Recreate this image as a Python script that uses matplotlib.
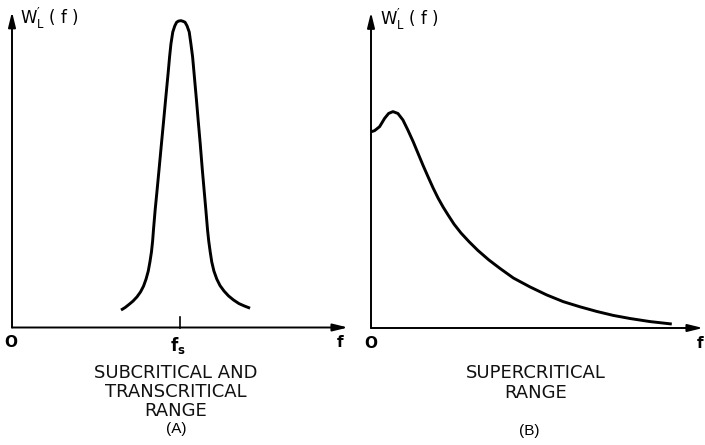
"""Lift spectrum sketches: subcritical/transcritical vs supercritical range."""

import matplotlib.pyplot as plt

plt.rcParams["mathtext.default"] = "regular"

# (A) narrow-band lift spectrum around the shedding frequency fs (f in units of fs)
f_sub = [0.649, 0.673, 0.696, 0.720, 0.744, 0.765, 0.783, 0.798, 0.811, 0.821,
         0.830, 0.837, 0.842, 0.852, 0.862, 0.875, 0.890, 0.903, 0.914, 0.930,
         0.938, 0.946, 0.957, 0.969, 0.980, 0.992, 1.006, 1.018, 1.030, 1.042,
         1.055, 1.065, 1.075, 1.083, 1.098, 1.108, 1.120, 1.133, 1.145, 1.154,
         1.164, 1.171, 1.180, 1.189, 1.202, 1.219, 1.238, 1.262, 1.289, 1.318,
         1.351, 1.384, 1.417]
w_sub = [0.057, 0.065, 0.075, 0.086, 0.100, 0.116, 0.135, 0.158, 0.184, 0.214,
         0.246, 0.282, 0.318, 0.383, 0.439, 0.514, 0.602, 0.677, 0.742, 0.834,
         0.883, 0.925, 0.964, 0.984, 0.996, 1.000, 1.001, 0.999, 0.996, 0.984,
         0.964, 0.925, 0.883, 0.834, 0.742, 0.677, 0.602, 0.514, 0.439, 0.383,
         0.318, 0.282, 0.246, 0.214, 0.184, 0.158, 0.137, 0.119, 0.103, 0.090,
         0.078, 0.070, 0.063]

# (B) broad-band lift spectrum in the supercritical range
f_sup = [0.000, 0.011, 0.026, 0.041, 0.053, 0.066, 0.081, 0.096, 0.111, 0.127,
         0.142, 0.157, 0.172, 0.187, 0.202, 0.217, 0.232, 0.250, 0.271, 0.295,
         0.322, 0.355, 0.389, 0.429, 0.479, 0.529, 0.579, 0.630, 0.680, 0.730,
         0.780, 0.840, 0.906]
w_sup = [0.640, 0.644, 0.657, 0.684, 0.700, 0.706, 0.700, 0.679, 0.646, 0.608,
         0.569, 0.530, 0.493, 0.457, 0.424, 0.395, 0.369, 0.339, 0.310, 0.282,
         0.253, 0.222, 0.194, 0.163, 0.134, 0.108, 0.086, 0.069, 0.054, 0.041,
         0.031, 0.021, 0.013]

captions_a = ["SUBCRITICAL AND", "TRANSCRITICAL", "RANGE"]
captions_b = ["SUPERCRITICAL", "RANGE"]

W_PX, H_PX = 705, 445
PX_PER_W = 306.5


def make_panel(fig, left_px, right_px, x0_px, y0_px, px_per_f):
    """Axes spanning a column of the figure, with data origin at (x0_px, y0_px)."""
    ax = fig.add_axes([left_px / W_PX, 0, (right_px - left_px) / W_PX, 1])
    ax.set_xlim((left_px - x0_px) / px_per_f, (right_px - x0_px) / px_per_f)
    ax.set_ylim(-(H_PX - y0_px) / PX_PER_W, y0_px / PX_PER_W)
    ax.set_axis_off()
    return ax


def draw_axes_arrows(ax, f_end, w_end):
    arrow = dict(arrowstyle="-|>,head_length=0.9,head_width=0.22",
                 lw=1.4, color="black", shrinkA=0, shrinkB=0, mutation_scale=10)
    ax.annotate("", xy=(0, w_end), xytext=(0, 0), arrowprops=arrow,
                annotation_clip=False)
    ax.annotate("", xy=(f_end, 0), xytext=(0, 0), arrowprops=arrow,
                annotation_clip=False)


fig = plt.figure(figsize=(7.05, 4.45), dpi=100)

label_kw = dict(fontsize=11, fontweight="bold", family="DejaVu Sans",
                ha="center", va="center")
ylab = r"$W^{\prime}_{L}$ ( f )"
cap_kw = dict(fontsize=13, family="DejaVu Sans", ha="center", va="center",
              color="#111111")
curve_kw = dict(color="black", lw=2.1, solid_joinstyle="round",
                solid_capstyle="butt")

# Panel A
ax_a = make_panel(fig, 0, 352, 12, 327.5, 168)
draw_axes_arrows(ax_a, 2.0, 1.03)
ax_a.plot(f_sub, w_sub, **curve_kw)
ax_a.plot([1, 1], [0, 0.034], color="black", lw=1.2)
ax_a.text(-0.006, -0.05, "O", **label_kw)
ax_a.text(1.952, -0.05, "f", **label_kw)
ax_a.text(0.99, -0.06, r"$\mathbf{f_s}$", fontsize=12, ha="center", va="center")
ax_a.text(0.045, 1.007, ylab, fontsize=12, ha="left", va="center")
for i, line in enumerate(captions_a):
    ax_a.text((176 - 12) / 168, (327.5 - 373 - 19 * i) / PX_PER_W, line, **cap_kw)
ax_a.text((176 - 12) / 168, (327.5 - 429) / PX_PER_W, "(A)",
          fontsize=11, family="Liberation Sans", ha="center", va="center")

# Panel B
ax_b = make_panel(fig, 352, 705, 371, 328, 332)
draw_axes_arrows(ax_b, 1.0, 1.03)
ax_b.plot(f_sup, w_sup, **curve_kw)
ax_b.text(0.0, -0.05, "O", **label_kw)
ax_b.text(0.991, -0.05, "f", **label_kw)
ax_b.text(0.027, 1.008, ylab, fontsize=12, ha="left", va="center")
for i, line in enumerate(captions_b):
    ax_b.text((536 - 371) / 332, (328 - 373 - 19.5 * i) / PX_PER_W, line, **cap_kw)
ax_b.text((529 - 371) / 332, (328 - 431) / PX_PER_W, "(B)",
          fontsize=11, family="Liberation Sans", ha="center", va="center")

fig.savefig("out.png", dpi=100)
